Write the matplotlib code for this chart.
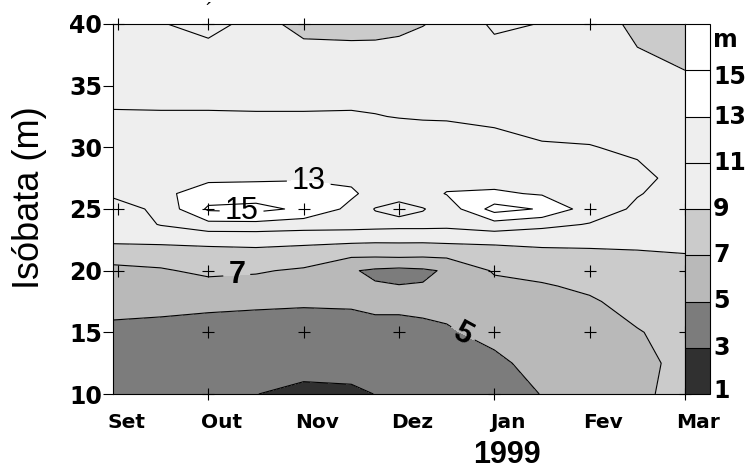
import numpy as np
import matplotlib.pyplot as plt

plt.rcParams['font.family'] = ['Liberation Sans', 'DejaVu Sans']

# eixo x em meses (0 = Set/1998 ... 6 = Mar/1999)
meses = [0, 0.5, 1, 1.5, 2, 2.5, 2.75, 3, 3.25, 3.5, 4, 4.5, 5, 5.5, 6]
mes_rotulos = ['Set', 'Out', 'Nov', 'Dez', 'Jan', 'Fev', 'Mar']
isobatas = [10, 12.5, 15, 17.5, 18.75, 20, 21.25, 22.5, 23.75, 25, 26.25, 27.5, 30, 32.5, 35, 37.5, 40]

# valores (uma linha por isobata, uma coluna por mes)
altura = [
    [3.8, 3.7, 3.5, 3.05, 2.2, 2.4, 3.05, 3.6, 3.8, 4.0, 4.2, 5.05, 5.7, 6.4, 8.0],
    [4.1, 4.0, 3.8, 3.6, 4.2, 4.3, 4.1, 3.9, 4.1, 4.4, 4.7, 5.5, 5.8, 6.6, 7.4],
    [4.6, 4.5, 4.3, 4.2, 4.6, 4.7, 4.6, 4.6, 4.7, 4.85, 5.4, 6.0, 5.9, 6.9, 7.6],
    [5.6, 5.5, 5.4, 5.3, 5.1, 5.1, 5.3, 5.3, 5.35, 5.4, 6.0, 6.4, 6.8, 7.6, 8.0],
    [6.0, 6.1, 6.4, 6.3, 5.8, 5.2, 5.15, 5.05, 5.1, 5.3, 6.5, 6.85, 7.3, 7.95, 8.25],
    [6.5, 6.8, 7.4, 7.2, 6.7, 5.15, 4.7, 4.5, 4.7, 5.2, 7.2, 7.5, 7.9, 8.3, 8.5],
    [7.8, 7.9, 8.6, 8.6, 8.3, 7.3, 7.3, 7.4, 7.3, 7.4, 8.0, 8.4, 8.6, 8.8, 8.95],
    [9.4, 9.5, 9.3, 9.4, 9.4, 9.5, 9.4, 9.4, 9.4, 9.5, 9.5, 9.6, 9.5, 9.4, 9.4],
    [9.8, 11.1, 12.4, 12.4, 12.0, 11.8, 11.7, 11.6, 11.6, 11.5, 12.2, 11.5, 10.9, 10.2, 9.8],
    [10.0, 11.5, 15.3, 15.6, 14.6, 12.5, 10.9, 10.4, 10.9, 11.8, 15.8, 14.8, 12.0, 10.7, 10.1],
    [11.4, 12.5, 14.0, 14.0, 14.0, 13.3, 12.3, 11.7, 12.2, 13.1, 13.3, 12.8, 11.9, 11.1, 10.3],
    [11.6, 12.1, 12.6, 12.7, 12.8, 12.6, 12.3, 12.0, 12.1, 12.3, 12.2, 11.8, 11.6, 11.3, 10.6],
    [11.7, 11.7, 11.9, 11.9, 12.0, 12.0, 12.0, 11.9, 11.75, 11.6, 11.35, 11.1, 11.05, 10.8, 10.3],
    [11.15, 11.1, 11.1, 11.1, 11.1, 11.1, 11.05, 10.95, 10.9, 10.9, 10.8, 10.6, 10.5, 10.3, 10.0],
    [10.5, 10.6, 10.6, 10.5, 10.5, 10.6, 10.5, 10.5, 10.5, 10.6, 10.5, 10.4, 10.3, 10.0, 9.4],
    [10.2, 10.4, 10.3, 10.2, 10.3, 10.2, 10.1, 10.2, 10.2, 10.3, 10.4, 10.4, 10.2, 9.2, 8.6],
    [10.0, 10.9, 11.6, 10.4, 7.8, 7.6, 7.8, 8.2, 8.9, 9.6, 11.3, 10.95, 10.3, 8.4, 7.8],
]

niveis = [1, 3, 5, 7, 9, 11, 13, 15, 17]
cores = ['#303030', '#7c7c7c', '#b9b9b9', '#cbcbcb', '#eeeeee', '#eeeeee', '#ffffff', '#ffffff']

# posicao dos rotulos das isolinhas
rotulos_iso = {15: (1.35, 25.1), 13: (2.05, 27.0), 7: (1.3, 19.4), 5: (3.65, 14.6)}

# estacoes de coleta (cruzes)
est_mes = [0.05, 0.05, 0.05, 1, 1, 1, 1, 1, 2, 2, 2, 3, 3, 4, 4, 4, 5, 5, 5, 5, 6, 6, 6, 6]
est_isobata = [40, 25, 20, 40, 25, 20, 15, 10, 40, 25, 15, 25, 15, 20, 15, 10, 40, 25, 20, 15, 25, 20, 15, 10]

fig = plt.figure(figsize=(7.56, 4.71), dpi=100)
ax = fig.add_axes([113/756, 77/471, 572/756, 370/471])
cax = fig.add_axes([685/756, 77/471, 25/756, 370/471])

cf = ax.contourf(meses, isobatas, altura, levels=niveis, colors=cores)
ax.contour(meses, isobatas, altura, levels=[3, 9, 11], colors='k', linewidths=0.8)

# isolinhas com rotulo (uma de cada vez)
for nv, pos in rotulos_iso.items():
    c = ax.contour(meses, isobatas, altura, levels=[nv], colors='k', linewidths=0.8)
    txt = ax.clabel(c, manual=[pos], inline=True, fmt='%d', fontsize=22)
    for t in txt:
        if nv != 5:
            t.set_rotation(0)
        if nv in (5, 7):
            t.set_fontweight('bold')

ax.plot(est_mes, est_isobata, '+', color='k', ms=8, mew=0.8, clip_on=False, zorder=5)
ax.text(1.0, 41.0, '\u00b4', fontsize=14, ha='center', va='center')

ax.set_xlim(0, 6)
ax.set_ylim(10, 40)
ax.set_xticks([])
ax.set_yticks([10, 15, 20, 25, 30, 35, 40])
ax.set_yticklabels(['10', '15', '20', '25', '30', '35', '40'],
                   fontfamily='DejaVu Sans', fontweight='bold', fontsize=17)
ax.tick_params(axis='y', direction='out', length=7, width=0.8, pad=1)
for s in ax.spines.values():
    s.set_linewidth(0.8)

for i, m in enumerate(mes_rotulos):
    ax.text(i + 0.14, -0.05, m, transform=ax.get_xaxis_transform(),
            ha='center', va='top', fontsize=14.5, fontweight='bold',
            fontfamily='DejaVu Sans')

fig.text(30/756, 1 - 198/471, 'Is\u00f3bata (m)', rotation=90, fontsize=26,
         ha='center', va='center')
fig.text(507/756, 1 - 455/471, '1999', fontsize=22, fontweight='bold',
         ha='center', va='center')

# escala de cores
cb = fig.colorbar(cf, cax=cax)
cb.set_ticks([])
cb.outline.set_linewidth(0.8)
for v in niveis[1:-1]:
    cax.axhline(v, color='k', lw=0.8)
for v in [3, 5, 7, 9, 11, 13]:
    cax.text(1.12, v, str(v), transform=cax.get_yaxis_transform(), va='center',
             fontfamily='DejaVu Sans', fontweight='bold', fontsize=17)
cax.text(1.12, 1.15, '1', transform=cax.get_yaxis_transform(), va='center',
         fontfamily='DejaVu Sans', fontweight='bold', fontsize=17)
cax.text(1.12, 14.7, '15', transform=cax.get_yaxis_transform(), va='center',
         fontfamily='DejaVu Sans', fontweight='bold', fontsize=17)
cax.text(1.12, 16.3, 'm', transform=cax.get_yaxis_transform(), va='center',
         fontfamily='DejaVu Sans', fontweight='bold', fontsize=17)

fig.savefig('out.png', dpi=100)
